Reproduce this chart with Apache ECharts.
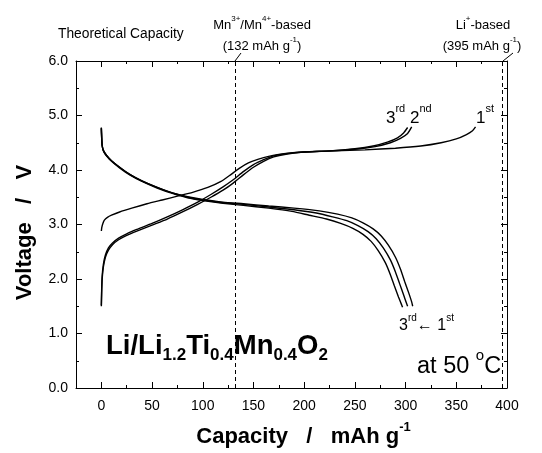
<!DOCTYPE html>
<html>
<head>
<meta charset="utf-8">
<script src="https://cdn.jsdelivr.net/npm/echarts@6/dist/echarts.min.js"></script>
<style>
  html, body { margin: 0; padding: 0; background: #fff; }
  #chart { width: 542px; height: 453px; }
</style>
</head>
<body>
<div id="chart"></div>
<script>
// capacity (mAh/g), voltage (V)
const charge1 = [[0,2.88],[0.5,2.95],[1.5,3.02],[3,3.08],[6,3.13],[10,3.17],[18,3.23],[30,3.30],[45,3.38],[60,3.45],[75,3.52],[90,3.59],[105,3.68],[118,3.79],[128,3.92],[136,4.03],[145,4.13],[155,4.20],[165,4.25],[180,4.30],[200,4.33],[230,4.35],[260,4.37],[290,4.40],[315,4.44],[335,4.50],[350,4.57],[360,4.65],[366,4.72],[369,4.79]];
const charge2 = [[0,1.50],[0.3,1.75],[0.8,2.00],[2,2.22],[4,2.40],[7,2.53],[11,2.63],[17,2.72],[25,2.80],[35,2.88],[50,2.99],[65,3.10],[80,3.23],[95,3.37],[108,3.50],[120,3.63],[130,3.76],[140,3.91],[150,4.05],[160,4.16],[170,4.24],[182,4.29],[200,4.33],[225,4.35],[250,4.38],[270,4.43],[285,4.50],[295,4.58],[302,4.67],[306,4.79]];
const charge3 = [[0,1.52],[0.3,1.80],[0.8,2.05],[2,2.27],[4,2.44],[7,2.57],[11,2.66],[17,2.75],[25,2.83],[35,2.91],[50,3.02],[65,3.14],[80,3.27],[95,3.41],[108,3.55],[120,3.69],[130,3.82],[140,3.97],[150,4.10],[160,4.19],[170,4.26],[182,4.30],[200,4.33],[225,4.35],[250,4.39],[268,4.44],[282,4.51],[292,4.59],[298,4.68],[302,4.78]];
const discharge1 = [[0,4.78],[0.3,4.60],[0.8,4.45],[2,4.36],[5,4.27],[10,4.17],[18,4.05],[28,3.92],[40,3.80],[55,3.68],[70,3.58],[85,3.51],[100,3.46],[120,3.41],[140,3.38],[165,3.34],[190,3.30],[215,3.25],[233,3.19],[247,3.12],[258,3.03],[268,2.92],[276,2.79],[283,2.62],[290,2.40],[295,2.18],[299,1.96],[303,1.75],[306,1.58],[307,1.50]];
const discharge2 = [[0,4.77],[0.3,4.60],[0.8,4.45],[2,4.36],[5,4.27],[10,4.17],[18,4.05],[28,3.92],[40,3.80],[55,3.68],[70,3.58],[85,3.50],[100,3.45],[120,3.40],[140,3.37],[165,3.32],[190,3.27],[212,3.21],[228,3.14],[242,3.07],[253,2.98],[263,2.87],[271,2.74],[278,2.57],[285,2.35],[290,2.13],[294,1.92],[298,1.71],[301,1.55],[302,1.50]];
const discharge3 = [[0,4.76],[0.3,4.60],[0.8,4.45],[2,4.35],[5,4.26],[10,4.16],[18,4.04],[28,3.91],[40,3.79],[55,3.67],[70,3.57],[85,3.49],[100,3.44],[120,3.39],[140,3.35],[165,3.30],[188,3.24],[205,3.17],[222,3.10],[236,3.02],[248,2.93],[258,2.82],[266,2.69],[273,2.52],[280,2.30],[285,2.08],[289,1.87],[293,1.67],[296,1.53],[297,1.48]];

const theoretical = [132, 395];
const xMajor = [0, 50, 100, 150, 200, 250, 300, 350, 400];
const xMinor = [25, 75, 125, 175, 225, 275, 325, 375];

const FONT = '"Liberation Sans", Arial, sans-serif';

const chart = echarts.init(document.getElementById('chart'));

function xAx(pos, ticks, len, main) {
  return {
    type: 'value', min: -25, max: 400, position: pos,
    axisLine: { show: main, onZero: false, lineStyle: { color: '#000', width: 1 } },
    axisTick: { show: true, inside: true, length: len, customValues: ticks, lineStyle: { color: '#000' } },
    axisLabel: { show: main && pos === 'bottom', customValues: ticks, color: '#000', fontSize: 14, margin: 11, fontFamily: FONT },
    splitLine: { show: false }
  };
}
function yAx(pos, labels) {
  return {
    type: 'value', min: 0, max: 6, interval: 1, position: pos,
    axisLine: { show: true, onZero: false, lineStyle: { color: '#000', width: 1 } },
    axisTick: { inside: true, length: 6, lineStyle: { color: '#000' } },
    minorTick: { show: true, splitNumber: 2, length: 3, lineStyle: { color: '#000' } },
    axisLabel: { show: labels, color: '#000', fontSize: 14, margin: 8, fontFamily: FONT, formatter: v => v.toFixed(1) },
    splitLine: { show: false }
  };
}

const xAxes = [xAx('bottom', xMajor, 6, true), xAx('top', xMajor, 6, true), xAx('bottom', xMinor, 3, false), xAx('top', xMinor, 3, false)];
xAxes[0].name = '{t|Capacity   /   mAh g}{s|-1}';
xAxes[0].nameLocation = 'middle';
xAxes[0].nameGap = 33;
xAxes[0].nameTextStyle = {
  padding: [0, 0, 0, 24],
  rich: {
    t: { fontSize: 22, fontWeight: 'bold', fontFamily: FONT, color: '#000', verticalAlign: 'top', padding: [5, 0, 0, 0], lineHeight: 24 },
    s: { fontSize: 13, fontWeight: 'bold', fontFamily: FONT, color: '#000', verticalAlign: 'top', lineHeight: 14 }
  }
};
const yAxes = [yAx('left', true), yAx('right', false)];
yAxes[0].name = 'Voltage   /   V';
yAxes[0].nameLocation = 'middle';
yAxes[0].nameGap = 40;
yAxes[0].nameTextStyle = { fontSize: 22, fontWeight: 'bold', fontFamily: FONT, color: '#000', padding: [0, 16, 0, 0] };

function line(data) {
  return {
    type: 'line', data: data, xAxisIndex: 0, yAxisIndex: 0,
    showSymbol: false, smooth: 0.2, silent: true,
    lineStyle: { color: '#000', width: 1.4 }
  };
}

const series = [line(charge1), line(charge2), line(charge3), line(discharge1), line(discharge2), line(discharge3)];
series[0].markLine = {
  silent: true, symbol: 'none', label: { show: false },
  lineStyle: { color: '#000', width: 1, type: [4, 3] },
  data: theoretical.map(v => ({ xAxis: v }))
};

const supRich = (size, pad) => ({
  m: { fontSize: size, fontFamily: FONT, color: '#000', verticalAlign: 'top', padding: [pad, 0, 0, 0], lineHeight: size + 2 },
  u: { fontSize: Math.round(size * 0.62), fontFamily: FONT, color: '#000', verticalAlign: 'top', lineHeight: Math.round(size * 0.62) + 2 }
});

function txt(x, y, text, rich, align) {
  return { type: 'text', x: x, y: y, silent: true,
    style: { text: text, rich: rich, align: align || 'left', verticalAlign: 'middle', fill: '#000' } };
}

const option = {
  animation: false,
  grid: { left: 76, right: 35, top: 61, bottom: 63 },
  xAxis: xAxes,
  yAxis: yAxes,
  series: series,
  graphic: [
    txt(58, 35, '{m|Theoretical Capacity}', supRich(13.8, 0)),
    txt(262, 22, '{m|Mn}{u|3+}{m|/Mn}{u|4+}{m|-based}', supRich(13, 4), 'center'),
    txt(262, 43, '{m|(132 mAh g}{u|-1}{m|)}', supRich(13, 4), 'center'),
    txt(483, 22, '{m|Li}{u|+}{m|-based}', supRich(13, 4), 'center'),
    txt(482, 43, '{m|(395 mAh g}{u|-1}{m|)}', supRich(13, 4), 'center'),
    { type: 'line', silent: true, shape: { x1: 235, y1: 61, x2: 241, y2: 53 }, style: { stroke: '#000', lineWidth: 1 } },
    { type: 'line', silent: true, shape: { x1: 503, y1: 61, x2: 513, y2: 53 }, style: { stroke: '#000', lineWidth: 1 } },
    txt(386, 113, '{m|3}{u|rd}{m| 2}{u|nd}', supRich(17, 6)),
    txt(476, 113, '{m|1}{u|st}', supRich(17, 6)),
    txt(399, 322, '{m|3}{u|rd}{m|\u2190 1}{u|st}', supRich(16, 5)),
    txt(417, 361, '{m|at 50 }{u|o}{m|C}', supRich(23.5, 6)),
    txt(106, 347, '{b|Li/Li}{s|1.2}{b|Ti}{s|0.4}{b|Mn}{s|0.4}{b|O}{s|2}', {
      b: { fontSize: 27.5, fontWeight: 'bold', fontFamily: FONT, color: '#000', verticalAlign: 'top', lineHeight: 30 },
      s: { fontSize: 17, fontWeight: 'bold', fontFamily: FONT, color: '#000', verticalAlign: 'top', padding: [15, 0, 0, 0], lineHeight: 19 }
    })
  ]
};

chart.setOption(option);
</script>
</body>
</html>
